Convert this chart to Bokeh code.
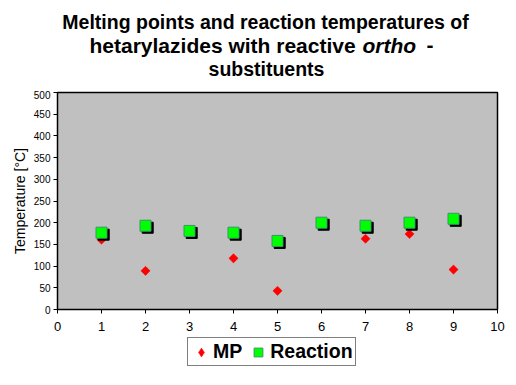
import numpy as np
from bokeh.plotting import figure
from bokeh.layouts import column
from bokeh.core.properties import value
from bokeh.models import (ColumnDataSource, FixedTicker, Legend, LegendItem, Range1d)
from bokeh.transform import dodge
from bokeh.embed import file_html
from bokeh.resources import INLINE

compound = [1, 2, 3, 4, 5, 6, 7, 8, 9]
mp = [161, 89, np.nan, 118, 43, np.nan, 163, 174, 92]
reaction = [177, 193, 181, 177, 158, 200, 193, 200, 209]
y_ticks = [0, 50, 100, 150, 200, 250, 300, 350, 400, 450, 500]
x_ticks = [0, 1, 2, 3, 4, 5, 6, 7, 8, 9, 10]

FONT = "Liberation Sans"
W = 516
BL, BR = 57, 19          # left / right borders shared by all strips (frames align)

def strip(height):
    f = figure(width=W, height=height, output_backend="svg", toolbar_location=None,
               x_range=Range1d(BL, W - BR), y_range=Range1d(height, 0),
               x_axis_type=None, y_axis_type=None,
               min_border_left=BL, min_border_right=BR, min_border_top=0, min_border_bottom=0)
    f.outline_line_color = None
    f.grid.visible = False
    f.background_fill_color = "white"
    f.border_fill_color = "white"
    return f

# ---- title strip (pixel coordinates of the page) ----
TH = 90
t = strip(TH)

def tline(x, y, text, align, style, size):
    t.text(x=[x], y=[y], text=[text], text_font=value(FONT), text_font_style=style,
           text_font_size=size, text_align=align, text_baseline="alphabetic",
           text_color="black")

tline(265, 21, "Melting points and reaction temperatures of", "center", "bold", "19.5px")
tline(89, 44.5, "hetarylazides with reactive", "left", "bold", "21px")
tline(362, 44.5, "ortho", "left", "bold italic", "21px")
tline(426, 44.5, "-", "left", "bold", "21px")
tline(266, 68, "substituents", "center", "bold", "19.5px")

# ---- main chart ----
MH = 243
src = ColumnDataSource(dict(x=compound, mp=mp, reaction=reaction))

p = figure(width=W, height=MH, output_backend="svg", toolbar_location=None,
           x_range=Range1d(0, 10), y_range=Range1d(0, 500),
           min_border_left=BL, min_border_right=BR, min_border_top=2, min_border_bottom=24)
p.background_fill_color = "#C0C0C0"
p.border_fill_color = "white"
p.outline_line_color = "black"
p.outline_line_width = 1.5
p.grid.visible = False

for ax in (p.xaxis[0], p.yaxis[0]):
    ax.axis_line_color = "black"
    ax.major_tick_line_color = "black"
    ax.minor_tick_line_color = None
    ax.major_tick_in = 0
    ax.major_tick_out = 4
    ax.major_label_text_font = FONT
    ax.major_label_text_color = "black"

p.xaxis.ticker = FixedTicker(ticks=x_ticks)
p.yaxis.ticker = FixedTicker(ticks=y_ticks)
p.xaxis.major_label_text_font_size = "13px"
p.xaxis.major_label_standoff = 8
p.yaxis.major_label_text_font_size = "10px"
p.yaxis.major_label_standoff = 3
p.yaxis.axis_label = "Temperature [°C]"
p.yaxis.axis_label_text_font = FONT
p.yaxis.axis_label_text_font_style = "normal"
p.yaxis.axis_label_text_font_size = "14px"
p.yaxis.axis_label_text_color = "black"
p.yaxis.axis_label_standoff = 3

MP_STYLE = dict(marker="square", angle=np.pi / 4, size=6.5,
                fill_color="#FF0000", line_color="#FF0000", line_width=0.5)
RE_STYLE = dict(marker="square", size=11, fill_color="#00FF00",
                line_color="#339966", line_width=1)

p.scatter("x", "mp", source=src, **MP_STYLE)
p.scatter(dodge("x", 0.05, range=p.x_range), dodge("reaction", -4.6, range=p.y_range),
          source=src, marker="square", size=11, fill_color="black", line_color="black")
p.scatter("x", "reaction", source=src, **RE_STYLE)

# ---- legend strip ----
LH = 385 - TH - MH
lg = strip(LH)
proxy = ColumnDataSource(dict(x=[np.nan], y=[np.nan]))
mp_proxy = lg.scatter("x", "y", source=proxy, marker="diamond", size=9,
                      fill_color="#FF0000", line_color="#FF0000", line_width=0.5)
re_proxy = lg.scatter("x", "y", source=proxy, **RE_STYLE)

legend = Legend(items=[LegendItem(label="MP", renderers=[mp_proxy]),
                       LegendItem(label="Reaction", renderers=[re_proxy])],
                orientation="horizontal", location=(187 - BL, LH - (366 - TH - MH)),
                label_text_font=FONT, label_text_font_style="bold",
                label_text_font_size="19.5px", label_text_color="black",
                label_height=22, glyph_width=22, glyph_height=22,
                label_standoff=1, spacing=5, padding=2, margin=0,
                border_line_color="black", border_line_width=1,
                background_fill_color="white", background_fill_alpha=1)
lg.add_layout(legend, "center")

layout = column(t, p, lg, spacing=0)
open("out.html", "w").write(file_html(layout, INLINE))
